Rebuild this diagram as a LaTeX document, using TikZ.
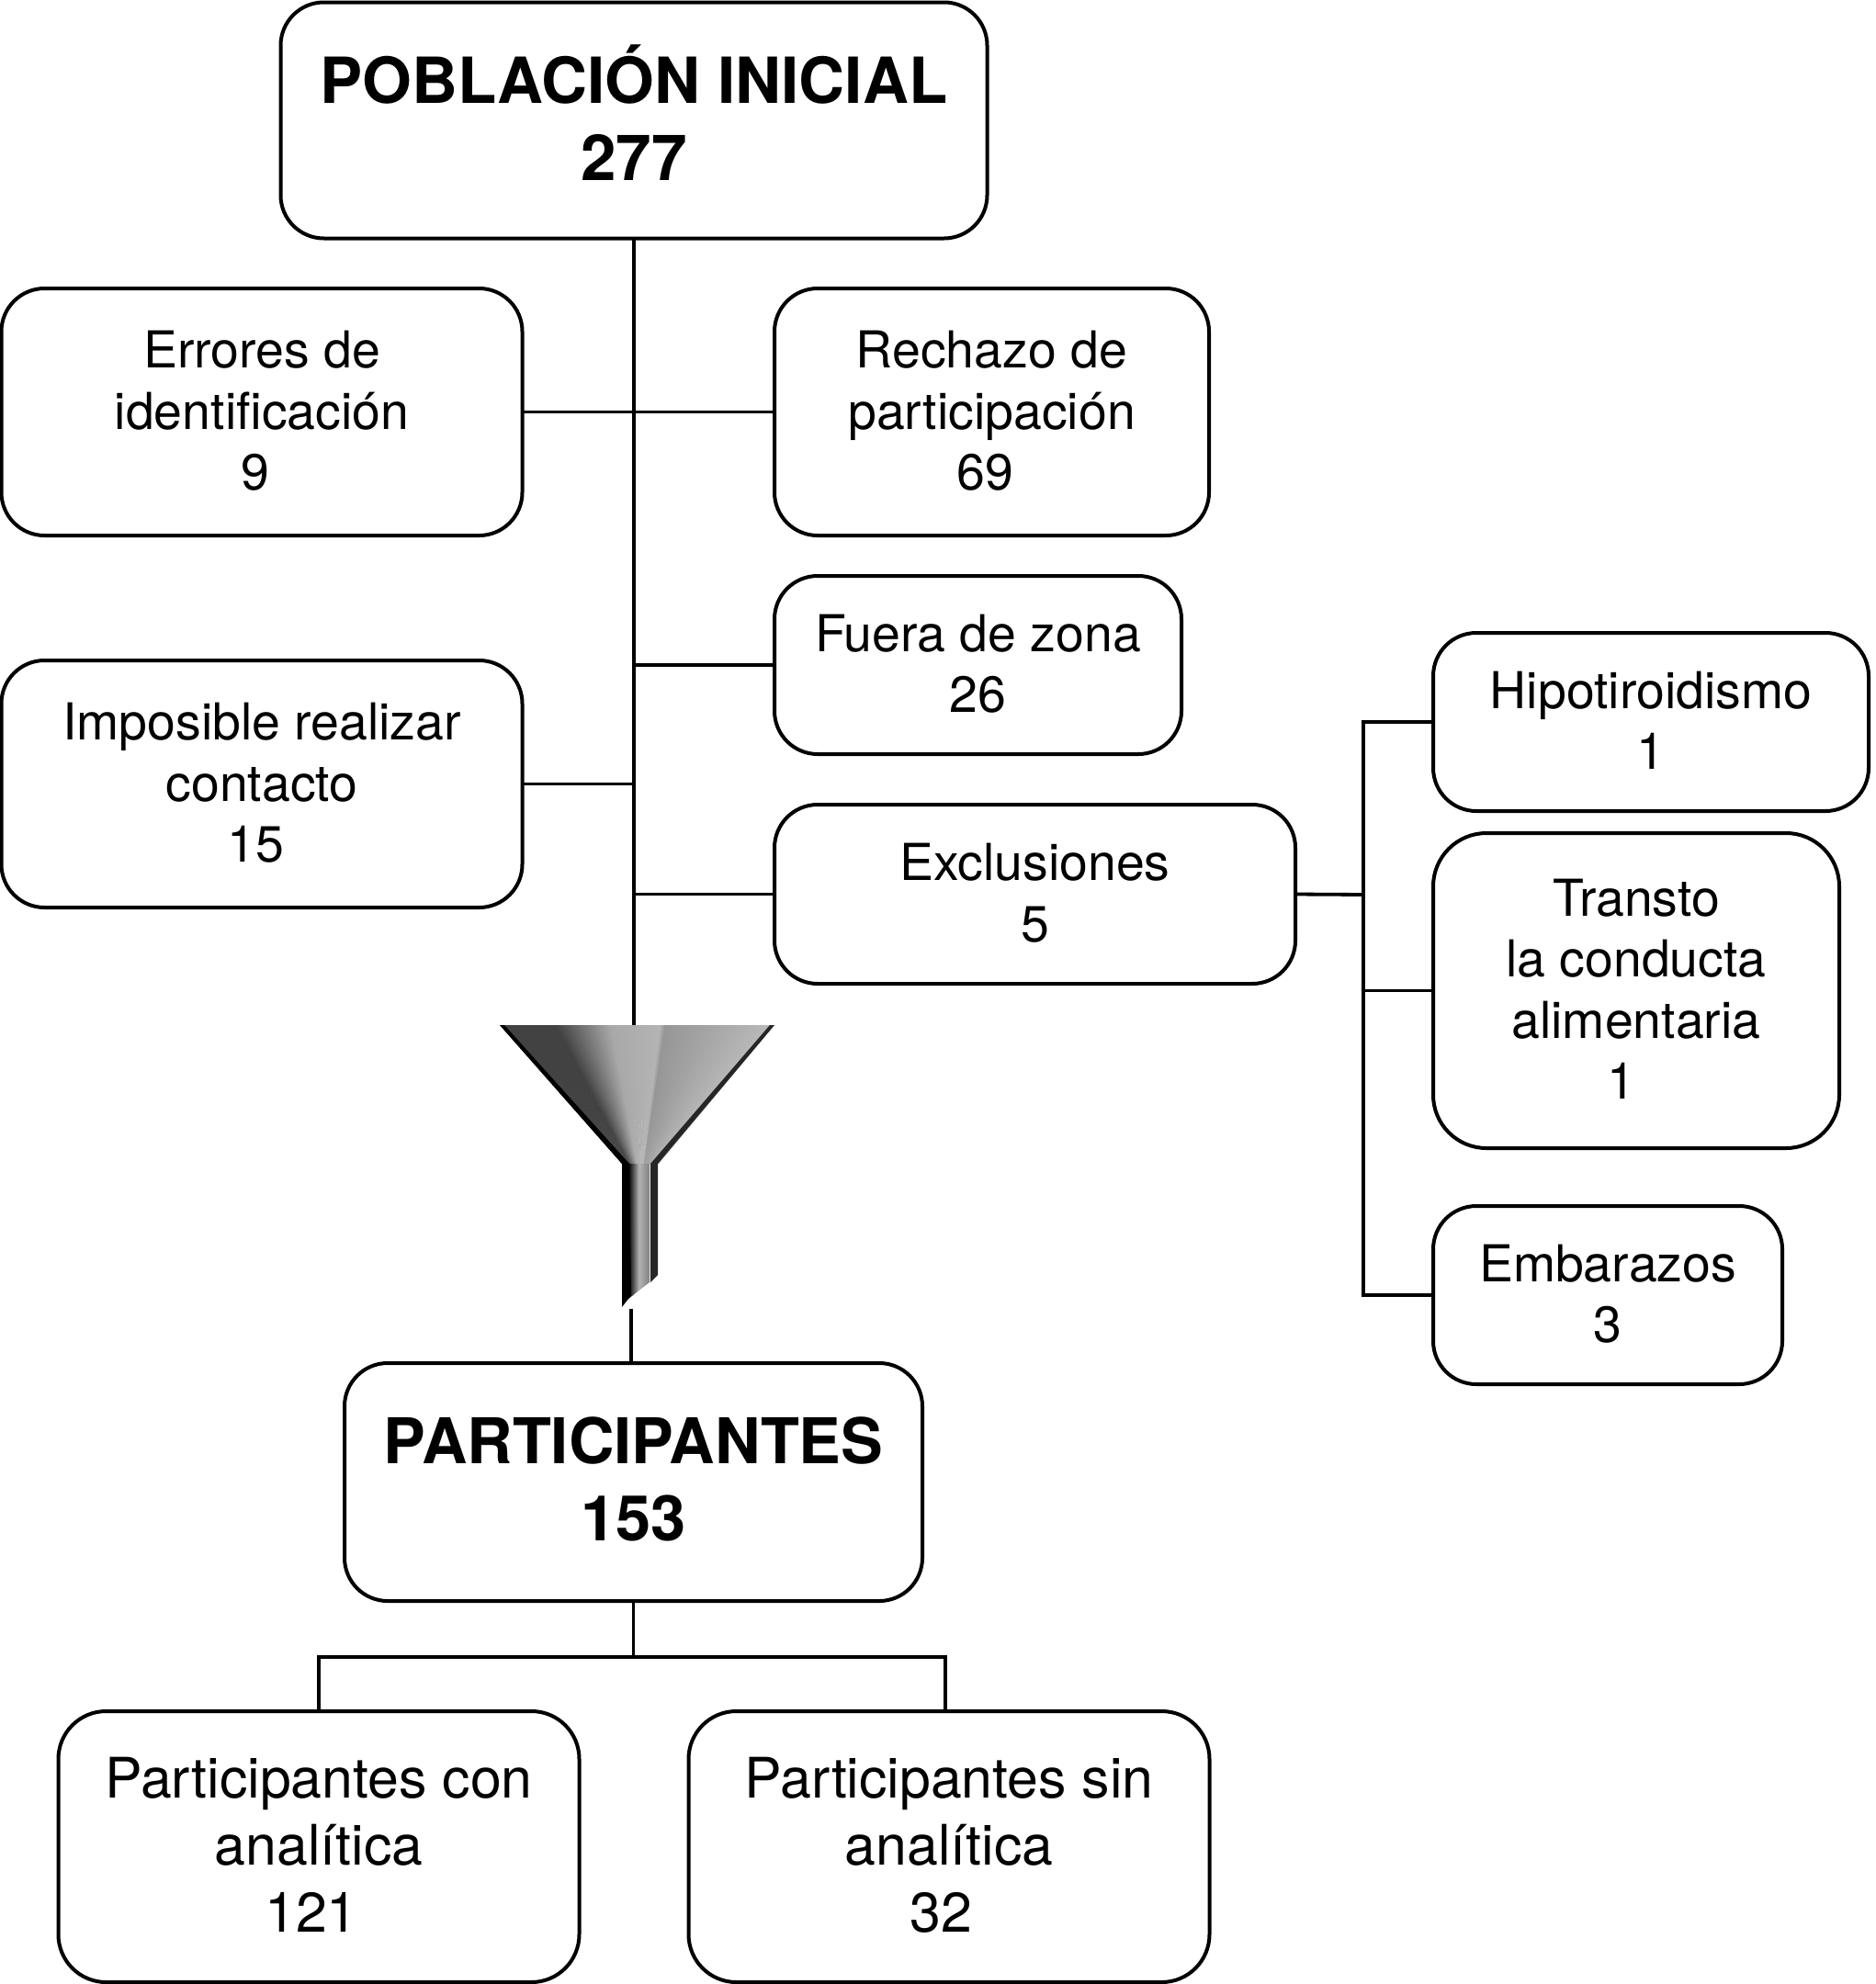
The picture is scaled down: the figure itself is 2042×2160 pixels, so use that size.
\documentclass[tikz,border=0pt]{standalone}
\usepackage{fontspec}
\setmainfont{TeX Gyre Heros}
\usepackage{tikz}
\usetikzlibrary{positioning, calc}

\begin{document}
\begin{tikzpicture}[
    x=1pt, y=-1pt,
    every text node part/.style={align=center},
    box/.style={draw=black, line width=4pt, rounded corners=47pt, fill=white, inner sep=0pt, outer sep=0pt, text depth=3pt, font=\fontsize{55.4}{66.5}\selectfont},
    titlebox/.style={box, font=\fontsize{69.2}{84}\selectfont\bfseries, text depth=16pt, minimum width=769pt, minimum height=257pt},
    midbox/.style={box, minimum width=567pt, minimum height=269pt},
    endbox/.style={box, rounded corners=52pt, text depth=4pt, font=\fontsize{60.8}{73}\selectfont, minimum width=567pt, minimum height=295pt},
    conn/.style={draw=black, line width=3.8pt}
]
\path[use as bounding box, fill=white] (0,0) rectangle (2042,2160);

% ==================== TOP OF THE FLOW ====================
\node[titlebox] (poblacion) at (690,131) {POBLACIÓN INICIAL\\277};

% ==================== LOSSES LEFT AND RIGHT ====================
\node[midbox] (errores) at (285,448.5) {Errores de\\identificación\\9\hspace*{14pt}};
\node[midbox, minimum width=473pt, right=274.5pt of errores] (rechazo) {Rechazo de\\participación\\69\hspace*{14pt}};
\node[midbox, below=136pt of errores.south, anchor=north] (imposible) {Imposible realizar\\contacto\\15\hspace*{14pt}};
\node[midbox, minimum width=443pt, minimum height=194pt, below=44pt of rechazo.south west, anchor=north west] (fuera) {Fuera de zona\\26};
\node[midbox, minimum height=195pt, below=55pt of fuera.south west, anchor=north west] (exclusiones) {Exclusiones\\5};

\draw[conn] (poblacion.south) -- (poblacion.south |- errores.east);
\draw[conn] (errores) -- (rechazo);
\draw[conn] (fuera.west) -- (fuera.west -| poblacion.south);
\draw[conn] (imposible.east) -- (imposible.east -| poblacion.south);
\draw[conn] (exclusiones.west) -- (exclusiones.west -| poblacion.south);

% ==================== EXCLUSION DETAIL ====================
\node[midbox, minimum width=474pt, minimum height=194pt] (hipo) at (1797,786) {Hipotiroidismo\\1};
\node[midbox, rounded corners=58pt, minimum width=442pt, minimum height=343pt, below=24pt of hipo.south west, anchor=north west] (transto) {Transto\\la conducta\\alimentaria\\1\hspace*{32pt}};
\node[midbox, minimum width=380pt, minimum height=194pt, below=63pt of transto.south west, anchor=north west] (embarazos) {Embarazos\\3};

\coordinate (bus) at (1484,974);
\draw[conn] (exclusiones.east) -- (bus);
\draw[conn] (hipo.west) -| (bus) |- (embarazos.west);
\draw[conn] (transto.west) -- (transto.west -| bus);

% ==================== FUNNEL ====================
\coordinate (fun_top) at (690,1116);
\coordinate (fun_tip) at (687,1425);
\foreach \i in {0,...,149}{
    \pgfmathsetmacro{\ta}{\i/150}
    \pgfmathsetmacro{\tb}{min(1,(\i+1.5)/150)}
    \pgfmathsetmacro{\gk}{\ta<0.2 ? 74 : (\ta<0.4 ? 74-(\ta-0.2)*200 : (\ta<0.58 ? 34-(\ta-0.4)*25 : (\ta<0.6 ? 29+(\ta-0.58)*600 : 41-(\ta-0.6)*35)))}
    \fill[black!\gk!white] ($(544,1116)!\ta!(843,1116)$) -- ($(544,1116)!\tb!(843,1116)$) -- ($(677,1267)!\tb!(717,1267)$) -- ($(677,1267)!\ta!(717,1267)$) -- cycle;
}
\shade[left color=black, right color=black!50, middle color=black!30] (684,1267) -- (707,1267) -- (707,1396) -- (684,1414) -- cycle;
\fill[black] (544,1116) -- (549,1116) -- (685,1267) -- (687,1410) -- (677,1423) -- (677,1267) -- cycle;
\fill[black!85] (843,1116) -- (838,1116) -- (708,1267) -- (708,1396) -- (716,1388) -- (716,1267) -- cycle;

\draw[conn] (poblacion.south |- errores.east) -- (fun_top);
\draw[conn] (fun_tip) -- (fun_tip |- {0,1484});

% ==================== PARTICIPANTS ====================
\node[titlebox, text depth=6pt, font=\fontsize{68.6}{84}\selectfont\bfseries, minimum width=629pt, minimum height=259pt] (participantes) at (689.5,1613.5) {PARTICIPANTES\\153};
\node[endbox] (con) at (347,2010.5) {Participantes con\\analítica\\121\hspace*{16pt}};
\node[endbox, right=119pt of con] (sin) {Participantes sin\\analítica\\32\hspace*{18pt}};

\coordinate (split) at ($(participantes.south)+(0,61)$);
\draw[conn] (participantes.south) -- (split);
\draw[conn] (con.north) |- (split) -| ([xshift=-4pt]sin.north);

\end{tikzpicture}
\end{document}
